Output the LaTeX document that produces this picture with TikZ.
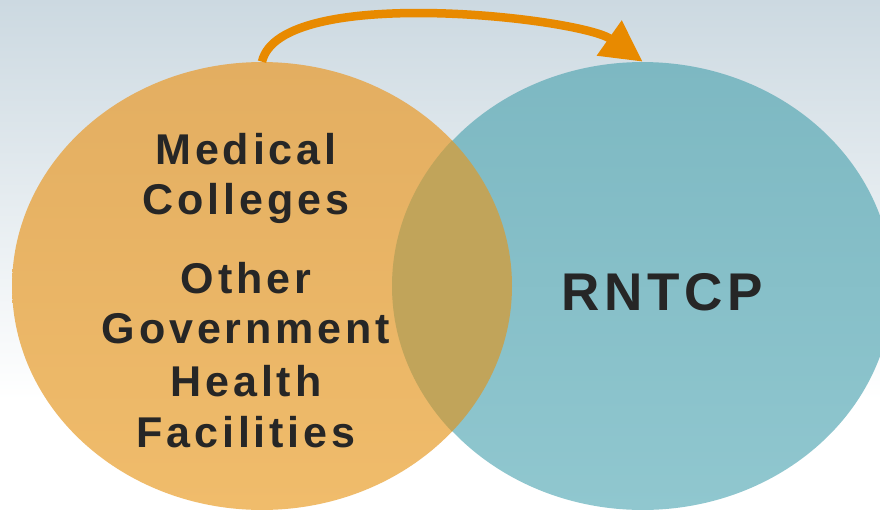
\documentclass[tikz,border=0pt]{standalone}
\usepackage{fontspec}
\newfontfamily\vennfont[LetterSpace=9]{Liberation Sans}
\usepackage{xcolor}
\usetikzlibrary{arrows.meta,shapes.geometric,positioning}

\definecolor{bgtop}{HTML}{CCD9E1}
\definecolor{orangetop}{HTML}{E3AE61}
\definecolor{orangebot}{HTML}{F0BC6B}
\definecolor{tealtop}{HTML}{7DB8C2}
\definecolor{tealbot}{HTML}{90C7CF}
\definecolor{lenscol}{HTML}{C1A45A}
\definecolor{arrowcol}{HTML}{E88A00}
\definecolor{textcol}{HTML}{262626}

\begin{document}
\begin{tikzpicture}[x=0.02cm,y=-0.02cm,
        venn/.style={ellipse, minimum width=10cm, minimum height=8.96cm,
                inner sep=0pt},
        lbl/.style={text=textcol, inner sep=0pt,
                font=\vennfont\bfseries\fontsize{24.5pt}{29pt}\selectfont},
        biglbl/.style={lbl,
                font=\vennfont\bfseries\fontsize{30.2pt}{36pt}\selectfont},
        >={Triangle[length=0.82cm,width=0.82cm]}]

    \useasboundingbox (0,0) rectangle (880,511);
    \clip (0,0) rectangle (880,511);

    % backdrop
    \fill[white] (0,0) rectangle (880,511);
    \shade[top color=bgtop, bottom color=white] (0,0) rectangle (880,400);

    % the two sets
    \node[venn, top color=orangetop, bottom color=orangebot] (hosp) at (262,286) {};
    \node[venn, top color=tealtop, bottom color=tealbot, right=-2.4cm of hosp] (rntcp) {};

    % overlap
    \begin{scope}
        \clip (262,286) ellipse [x radius=250, y radius=224];
        \fill[lenscol] (642,286) ellipse [x radius=250, y radius=224];
    \end{scope}

    \draw[->, arrowcol, line width=0.17cm]
        (hosp.north) .. controls +(18,-78) and +(-62,-44) .. (rntcp.north);

    \foreach \txt/\y [count=\i] in {Medical/164, Colleges/214, Other/293,
            Government/343, Health/396, Facilities/447}
        \node[lbl, anchor=base] (line\i) at (246,\y) {\txt};

    \node[biglbl, anchor=base] (prog) at (662,310) {RNTCP};
\end{tikzpicture}
\end{document}
